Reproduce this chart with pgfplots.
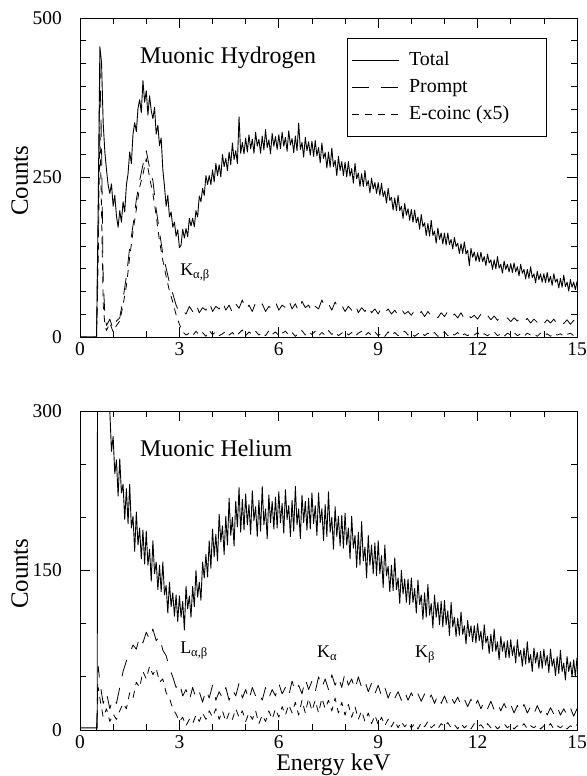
\documentclass[border=0pt]{standalone}
\usepackage{pgfplots}
\pgfplotsset{compat=1.18}
\usepackage{fontspec}
\setmainfont{Liberation Serif}
\pgfplotsset{
  base/.style={
    scale only axis, width=497bp, height=319bp, anchor=south west,
    xmin=0, xmax=15, xtick={0,3,...,15}, minor x tick num=2,
    tick align=inside, major tick length=10bp, minor tick length=6bp,
    axis line style={line width=0.8bp}, every tick/.style={black,line width=0.7bp},
    /pgf/number format/assume math mode=true,
    tick label style={font=\fontsize{19.5}{19.5}\selectfont},
    xticklabel style={anchor=north, inner sep=0pt, yshift=-5bp},
    yticklabel style={anchor=east, inner sep=0pt, xshift=-18bp},
    every axis y label/.style={at={(axis description cs:-0.121,0.49)}, rotate=90, anchor=center, font=\fontsize{25}{25}\selectfont},
    every axis plot/.append style={line join=round},
  },
  tot/.style={black, line width=0.9bp},
  pro/.style={black, line width=0.8bp, dash pattern=on 17bp off 12bp},
  eco/.style={black, line width=0.8bp, dash pattern=on 7bp off 6bp},
}
\begin{document}
\begin{tikzpicture}
\useasboundingbox (0,0) rectangle (587bp,776bp);
% ---------------- Top panel: Muonic Hydrogen ----------------
\begin{axis}[base, at={(80bp,439bp)}, ymin=0, ymax=500, ytick={0,250,500}, minor y tick num=6,
  ylabel={Counts},
  legend style={at={(0.537,0.936)}, anchor=north west, draw=black, line width=0.6bp,
    font=\fontsize{20}{20}\selectfont, inner xsep=4bp, inner ysep=10bp, row sep=3bp,
    nodes={inner sep=3bp, text height=14bp, text depth=4bp},
    /tikz/every odd column/.append style={column sep=7bp}},
  legend cell align=left,
  legend image code/.code={\draw[#1] (0bp,0bp) -- (47bp,0bp);},
]
\addplot[tot] coordinates {(0,0) (0.5,0) (0.55,210) (0.6,455) (0.65,430) (0.7,335) (0.75,290) (0.8,262) (0.85,238) (0.9,225) (0.95,240) (1.0,205) (1.05,222) (1.1,190) (1.15,172) (1.2,198) (1.25,180) (1.3,212) (1.35,196) (1.4,238) (1.45,256) (1.5,290) (1.55,272) (1.6,318) (1.65,336) (1.7,322) (1.75,358) (1.8,372) (1.85,352) (1.9,402) (1.95,368) (2.0,386) (2.05,348) (2.1,378) (2.15,355) (2.2,342) (2.25,360) (2.3,318) (2.35,332) (2.4,300) (2.45,312) (2.5,262) (2.55,236) (2.6,205) (2.65,222) (2.7,188) (2.75,196) (2.8,172) (2.85,180) (2.9,158) (2.95,168)
(3.00,140) (3.05,144) (3.10,169) (3.15,155) (3.20,170) (3.25,157) (3.30,186) (3.35,174) (3.40,186) (3.45,173) (3.50,198) (3.55,188) (3.60,221) (3.65,212) (3.70,233) (3.75,222) (3.80,253) (3.85,239) (3.90,253) (3.95,239)
(4.00,262) (4.05,243) (4.10,272) (4.15,253) (4.20,270) (4.25,251) (4.30,286) (4.35,267) (4.40,280) (4.45,261) (4.50,290) (4.55,270) (4.60,304) (4.65,278) (4.70,292) (4.75,272) (4.80,345) (4.85,288) (4.90,305) (4.95,287)
(5.00,312) (5.05,290) (5.10,317) (5.15,295) (5.20,310) (5.25,288) (5.30,321) (5.35,299) (5.40,310) (5.45,288) (5.50,315) (5.55,293) (5.60,325) (5.65,297) (5.70,309) (5.75,287) (5.80,319) (5.85,299) (5.90,314) (5.95,294)
(6.00,317) (6.05,295) (6.10,321) (6.15,299) (6.20,313) (6.25,291) (6.30,323) (6.35,301) (6.40,311) (6.45,289) (6.50,315) (6.55,292) (6.60,335) (6.65,294) (6.70,305) (6.75,282) (6.80,313) (6.85,292) (6.90,306) (6.95,285)
(7.00,307) (7.05,283) (7.10,308) (7.15,284) (7.20,297) (7.25,273) (7.30,304) (7.35,280) (7.40,289) (7.45,265) (7.50,290) (7.55,266) (7.60,296) (7.65,267) (7.70,277) (7.75,253) (7.80,283) (7.85,261) (7.90,275) (7.95,253)
(8.00,274) (8.05,251) (8.10,275) (8.15,252) (8.20,264) (8.25,241) (8.30,272) (8.35,248) (8.40,257) (8.45,236) (8.50,256) (8.55,236) (8.60,261) (8.65,237) (8.70,245) (8.75,226) (8.80,249) (8.85,232) (8.90,242) (8.95,225)
(9.00,242) (9.05,222) (9.10,241) (9.15,220) (9.20,229) (9.25,210) (9.30,233) (9.35,214) (9.40,219) (9.45,199) (9.50,218) (9.55,198) (9.60,222) (9.65,198) (9.70,205) (9.75,186) (9.80,209) (9.85,191) (9.90,201) (9.95,183)
(10.00,200) (10.05,180) (10.10,199) (10.15,179) (10.20,188) (10.25,169) (10.30,192) (10.35,173) (10.40,179) (10.45,159) (10.50,178) (10.55,158) (10.60,183) (10.65,159) (10.70,166) (10.75,147) (10.80,171) (10.85,153) (10.90,163) (10.95,146)
(11.00,163) (11.05,144) (11.10,163) (11.15,145) (11.20,153) (11.25,138) (11.30,156) (11.35,142) (11.40,147) (11.45,131) (11.50,146) (11.55,131) (11.60,149) (11.65,130) (11.70,136) (11.75,112) (11.80,139) (11.85,125) (11.90,133) (11.95,119)
(12.00,132) (12.05,118) (12.10,133) (12.15,118) (12.20,126) (12.25,112) (12.30,130) (12.35,116) (12.40,121) (12.45,106) (12.50,121) (12.55,107) (12.60,126) (12.65,108) (12.70,114) (12.75,100) (12.80,119) (12.85,106) (12.90,114) (12.95,102)
(13.00,115) (13.05,101) (13.10,116) (13.15,102) (13.20,110) (13.25,96) (13.30,114) (13.35,100) (13.40,106) (13.45,91) (13.50,106) (13.55,92) (13.60,110) (13.65,93) (13.70,99) (13.75,85) (13.80,103) (13.85,90) (13.90,99) (13.95,86)
(14.00,99) (14.05,85) (14.10,101) (14.15,86) (14.20,95) (14.25,81) (14.30,99) (14.35,86) (14.40,91) (14.45,77) (14.50,92) (14.55,78) (14.60,97) (14.65,79) (14.70,86) (14.75,72) (14.80,90) (14.85,78) (14.90,86) (14.95,74) (15.00,87)};
\addlegendentry{\makebox[130bp][l]{Total}}
\addplot[pro] coordinates {(0,0) (0.5,0) (0.55,180) (0.6,430) (0.65,300) (0.7,90) (0.75,35) (0.8,18) (0.9,28) (1.0,12) (1.1,25) (1.2,30) (1.3,60) (1.4,95) (1.5,140) (1.6,175) (1.7,215) (1.8,245) (1.9,270) (2.0,292) (2.1,265) (2.2,245) (2.3,200) (2.4,165) (2.5,130) (2.6,108) (2.7,85) (2.8,68) (2.9,50) (3.0,38) (3.1,42) (3.2,36)
(3.3,48) (3.4,40) (3.5,52) (3.6,38) (3.7,46) (3.8,42) (3.9,55) (4.0,40) (4.1,48) (4.2,44) (4.3,56) (4.4,42) (4.5,50) (4.6,38) (4.7,52) (4.8,45) (4.9,58) (5.0,42) (5.1,50) (5.2,40) (5.3,54) (5.4,46) (5.5,52) (5.6,40) (5.7,48) (5.8,44) (5.9,55) (6.0,42) (6.1,50) (6.2,46) (6.3,58) (6.4,44) (6.5,52) (6.6,40) (6.7,56) (6.8,46) (6.9,50) (7.0,38) (7.1,48) (7.2,44) (7.3,58) (7.4,46) (7.5,52) (7.6,42) (7.7,55) (7.8,44) (7.9,50) (8.0,40) (8.1,48) (8.2,42) (8.3,52) (8.4,38) (8.5,46) (8.6,40) (8.7,50) (8.8,38) (8.9,44) (9.0,36) (9.1,46) (9.2,38) (9.3,44) (9.4,36) (9.5,42) (9.6,34) (9.7,44) (9.8,36) (9.9,40) (10.0,34) (10.1,42) (10.2,34) (10.3,40) (10.4,32) (10.5,40) (10.6,33) (10.7,38) (10.8,30) (10.9,38) (11.0,32) (11.1,40) (11.2,30) (11.3,36) (11.4,30) (11.5,38) (11.6,28) (11.7,36) (11.8,30) (11.9,34) (12.0,28) (12.1,36) (12.2,28) (12.3,34) (12.4,27) (12.5,33) (12.6,26) (12.7,32) (12.8,26) (12.9,30) (13.0,24) (13.1,30) (13.2,25) (13.3,31) (13.4,24) (13.5,29) (13.6,22) (13.7,28) (13.8,23) (13.9,29) (14.0,21) (14.1,27) (14.2,22) (14.3,28) (14.4,20) (14.5,26) (14.6,21) (14.7,27) (14.8,20) (14.9,26) (15.0,22)};
\addlegendentry{\makebox[130bp][l]{Prompt}}
\addplot[eco] coordinates {(0,0) (0.5,0) (0.55,120) (0.6,330) (0.65,200) (0.7,50) (0.75,20) (0.8,10) (0.9,22) (1.0,8) (1.1,18) (1.2,25) (1.3,50) (1.4,80) (1.5,125) (1.6,165) (1.7,200) (1.8,235) (1.9,255) (2.0,280) (2.1,250) (2.2,225) (2.3,190) (2.4,150) (2.5,120) (2.6,95) (2.7,72) (2.8,55) (2.9,35) (3.0,20) (3.1,8) (3.2,3)
(3.3,6) (3.4,2) (3.5,9) (3.6,3) (3.7,7) (3.8,1) (3.9,10) (4.0,4) (4.1,8) (4.2,2) (4.3,5) (4.4,9) (4.5,3) (4.6,7) (4.7,1) (4.8,6) (4.9,11) (5.0,2) (5.1,8) (5.2,4) (5.3,9) (5.4,3) (5.5,7) (5.6,2) (5.7,10) (5.8,4) (5.9,8) (6.0,2) (6.1,6) (6.2,9) (6.3,3) (6.4,7) (6.5,1) (6.6,6) (6.7,10) (6.8,3) (6.9,8) (7.0,4) (7.1,9) (7.2,2) (7.3,7) (7.4,3) (7.5,10) (7.6,4) (7.7,8) (7.8,2) (7.9,6) (8.0,9) (8.1,3) (8.2,7) (8.3,1) (8.4,6) (8.5,9) (8.6,2) (8.7,7) (8.8,3) (8.9,8) (9.0,2) (9.1,6) (9.2,1) (9.3,8) (9.4,3) (9.5,7) (9.6,2) (9.7,6) (9.8,9) (9.9,3) (10.0,6) (10.1,1) (10.2,5) (10.3,8) (10.4,2) (10.5,6) (10.6,3) (10.7,7) (10.8,1) (10.9,5) (11.0,8) (11.1,2) (11.2,6) (11.3,3) (11.4,7) (11.5,1) (11.6,5) (11.7,2) (11.8,6) (11.9,3) (12.0,7) (12.1,1) (12.2,5) (12.3,2) (12.4,6) (12.5,8) (12.6,2) (12.7,5) (12.8,1) (12.9,6) (13.0,3) (13.1,7) (13.2,2) (13.3,5) (13.4,1) (13.5,6) (13.6,3) (13.7,5) (13.8,1) (13.9,6) (14.0,2) (14.1,5) (14.2,1) (14.3,6) (14.4,3) (14.5,5) (14.6,1) (14.7,4) (14.8,6) (14.9,2) (15.0,5)};
\addlegendentry{\makebox[130bp][l]{E-coinc (x5)}}
\node[anchor=base west, font=\fontsize{24}{24}\selectfont, inner sep=0pt] at (axis cs:1.81,428) {Muonic Hydrogen};
\node[anchor=base west, font=\fontsize{18}{18}\selectfont, inner sep=0pt] at (axis cs:3.02,97) {K\textsubscript{α,β}};
\end{axis}
% ---------------- Bottom panel: Muonic Helium ----------------
\begin{axis}[base, at={(80bp,46bp)}, ymin=0, ymax=300, ytick={0,150,300}, minor y tick num=2,
  ylabel={Counts}, xlabel={Energy keV},
  every axis x label/.style={at={(axis description cs:0.51,0)}, anchor=base, yshift=-40bp, font=\fontsize{24}{24}\selectfont},
]
\addplot[tot] coordinates {(0,2) (0.52,2) (0.53,420) (0.85,330) (0.90,300) (0.95,262) (1.00,276) (1.05,241) (1.10,254) (1.15,220) (1.20,255) (1.25,223) (1.30,231) (1.35,198) (1.40,227) (1.45,194) (1.50,231) (1.55,190) (1.60,201) (1.65,168) (1.70,205) (1.75,174) (1.80,190) (1.85,161)
(1.90,188) (1.95,156) (2.00,187) (2.05,155) (2.10,170) (2.15,140) (2.20,178) (2.25,147) (2.30,158) (2.35,132) (2.40,155) (2.45,130) (2.50,158) (2.55,127) (2.60,136) (2.65,110) (2.70,139) (2.75,116) (2.80,129) (2.85,107)
(2.90,127) (2.95,102) (3.00,126) (3.05,106) (3.10,121) (3.15,94) (3.20,135) (3.25,114) (3.30,126) (3.35,106) (3.40,135) (3.45,116) (3.50,150) (3.55,125) (3.60,139) (3.65,122) (3.70,158) (3.75,143) (3.80,165) (3.85,144)
(3.90,178) (3.95,152) (4.00,189) (4.05,163) (4.10,184) (4.15,159) (4.20,203) (4.25,177) (4.30,192) (4.35,165) (4.40,201) (4.45,174) (4.50,218) (4.55,183) (4.60,200) (4.65,173) (4.70,215) (4.75,191) (4.80,228) (4.85,186)
(4.90,217) (4.95,188) (5.00,222) (5.05,193) (5.10,212) (5.15,184) (5.20,225) (5.25,197) (5.30,210) (5.35,182) (5.40,216) (5.45,187) (5.50,229) (5.55,193) (5.60,208) (5.65,180) (5.70,221) (5.75,195) (5.80,215) (5.85,189)
(5.90,219) (5.95,190) (6.00,224) (6.05,195) (6.10,213) (6.15,185) (6.20,226) (6.25,198) (6.30,211) (6.35,182) (6.40,216) (6.45,187) (6.50,229) (6.55,193) (6.60,208) (6.65,180) (6.70,221) (6.75,195) (6.80,215) (6.85,188)
(6.90,218) (6.95,189) (7.00,223) (7.05,194) (7.10,211) (7.15,183) (7.20,223) (7.25,195) (7.30,208) (7.35,178) (7.40,212) (7.45,182) (7.50,224) (7.55,186) (7.60,200) (7.65,170) (7.70,210) (7.75,182) (7.80,201) (7.85,173)
(7.90,202) (7.95,171) (8.00,204) (8.05,174) (8.10,190) (8.15,161) (8.20,201) (8.25,171) (8.30,183) (8.35,153) (8.40,186) (8.45,155) (8.50,196) (8.55,159) (8.60,172) (8.65,143) (8.70,183) (8.75,155) (8.80,174) (8.85,147)
(8.90,176) (8.95,145) (9.00,178) (9.05,147) (9.10,164) (9.15,134) (9.20,174) (9.25,145) (9.30,154) (9.35,130) (9.40,155) (9.45,131) (9.50,162) (9.55,132) (9.60,143) (9.65,119) (9.70,150) (9.75,128) (9.80,142) (9.85,120)
(9.90,142) (9.95,118) (10.00,143) (10.05,120) (10.10,133) (10.15,110) (10.20,141) (10.25,118) (10.30,127) (10.35,104) (10.40,129) (10.45,106) (10.50,137) (10.55,108) (10.60,119) (10.65,96) (10.70,127) (10.75,106) (10.80,120) (10.85,99)
(10.90,121) (10.95,97) (11.00,122) (11.05,99) (11.10,112) (11.15,89) (11.20,120) (11.25,97) (11.30,106) (11.35,88) (11.40,105) (11.45,89) (11.50,111) (11.55,90) (11.60,98) (11.65,81) (11.70,103) (11.75,88) (11.80,98) (11.85,83)
(11.90,98) (11.95,82) (12.00,100) (12.05,84) (12.10,93) (12.15,76) (12.20,99) (12.25,82) (12.30,88) (12.35,72) (12.40,90) (12.45,74) (12.50,95) (12.55,74) (12.60,83) (12.65,66) (12.70,88) (12.75,74) (12.80,83) (12.85,68)
(12.90,84) (12.95,68) (13.00,85) (13.05,70) (13.10,79) (13.15,63) (13.20,85) (13.25,69) (13.30,75) (13.35,60) (13.40,77) (13.45,62) (13.50,83) (13.55,63) (13.60,71) (13.65,55) (13.70,77) (13.75,63) (13.80,73) (13.85,58)
(13.90,74) (13.95,58) (14.00,76) (14.05,61) (14.10,70) (14.15,54) (14.20,76) (14.25,60) (14.30,67) (14.35,51) (14.40,69) (14.45,53) (14.50,75) (14.55,55) (14.60,63) (14.65,47) (14.70,69) (14.75,55) (14.80,64) (14.85,50)
(14.90,66) (14.95,50) (15.00,68)};
\addplot[pro] coordinates {(0.5,0) (0.55,60) (0.6,45) (0.7,25) (0.8,35) (0.9,20) (1.0,30) (1.1,25) (1.2,40) (1.3,55) (1.4,65) (1.5,72) (1.6,80) (1.7,76) (1.8,88) (1.9,82) (2.0,92) (2.1,85) (2.2,95) (2.3,84) (2.4,88) (2.5,75) (2.6,70) (2.7,58) (2.8,50) (2.9,40) (3.0,45) (3.1,32) (3.2,38) (3.3,28) (3.4,40) (3.5,30) (3.6,36) (3.7,26) (3.8,38) (3.9,30) (4.0,42) (4.1,28) (4.2,36) (4.3,30) (4.4,40) (4.5,28) (4.6,38) (4.7,32) (4.8,44) (4.9,30) (5.0,38) (5.1,28) (5.2,40) (5.3,32) (5.4,36) (5.5,28) (5.6,40) (5.7,30) (5.8,38) (5.9,32) (6.0,44) (6.1,34) (6.2,40) (6.3,32) (6.4,46) (6.5,36) (6.6,42) (6.7,34) (6.8,48) (6.9,38) (7.0,46) (7.1,36) (7.2,50) (7.3,40) (7.4,48) (7.5,38) (7.6,52) (7.7,42) (7.8,50) (7.9,40) (8.0,54) (8.1,42) (8.2,48) (8.3,38) (8.4,50) (8.5,40) (8.6,46) (8.7,36) (8.8,44) (8.9,34) (9.0,42) (9.1,32) (9.2,40) (9.3,30) (9.4,38) (9.5,30) (9.6,36) (9.7,28) (9.8,36) (9.9,28) (10.0,35) (10.1,28) (10.2,34) (10.3,27) (10.4,34) (10.5,27) (10.6,33) (10.7,25) (10.8,33) (10.9,25) (11.0,32) (11.1,24) (11.2,31) (11.3,25) (11.4,31) (11.5,23) (11.6,29) (11.7,22) (11.8,29) (11.9,21) (12.0,28) (12.1,20) (12.2,27) (12.3,20) (12.4,27) (12.5,19) (12.6,25) (12.7,18) (12.8,25) (12.9,18) (13.0,24) (13.1,16) (13.2,23) (13.3,17) (13.4,24) (13.5,16) (13.6,22) (13.7,15) (13.8,23) (13.9,16) (14.0,22) (14.1,14) (14.2,21) (14.3,15) (14.4,22) (14.5,14) (14.6,20) (14.7,14) (14.8,21) (14.9,13) (15.0,20)};
\addplot[eco] coordinates {(0.5,0) (0.55,40) (0.6,30) (0.7,12) (0.8,20) (0.9,8) (1.0,15) (1.1,10) (1.2,18) (1.3,25) (1.4,20) (1.5,35) (1.6,30) (1.7,45) (1.8,40) (1.9,55) (2.0,48) (2.1,60) (2.2,52) (2.3,58) (2.4,45) (2.5,48) (2.6,35) (2.7,30) (2.8,20) (2.9,15) (3.0,8) (3.1,12) (3.2,4) (3.3,10) (3.4,6) (3.5,14) (3.6,8) (3.7,16) (3.8,10) (3.9,18) (4.0,12) (4.1,20) (4.2,10) (4.3,18) (4.4,8) (4.5,16) (4.6,10) (4.7,20) (4.8,12) (4.9,18) (5.0,8) (5.1,16) (5.2,10) (5.3,18) (5.4,6) (5.5,14) (5.6,8) (5.7,18) (5.8,10) (5.9,20) (6.0,12) (6.1,22) (6.2,14) (6.3,24) (6.4,16) (6.5,26) (6.6,14) (6.7,28) (6.8,16) (6.9,30) (7.0,18) (7.1,28) (7.2,16) (7.3,30) (7.4,20) (7.5,28) (7.6,18) (7.7,30) (7.8,16) (7.9,26) (8.0,14) (8.1,24) (8.2,12) (8.3,22) (8.4,10) (8.5,18) (8.6,8) (8.7,16) (8.8,6) (8.9,14) (9.0,5) (9.1,12) (9.2,4) (9.3,10) (9.4,3) (9.5,9) (9.6,2) (9.7,8) (9.8,3) (9.9,7) (10.0,2) (10.1,6) (10.2,1) (10.3,7) (10.4,3) (10.5,8) (10.6,2) (10.7,5) (10.8,1) (10.9,6) (11.0,3) (11.1,7) (11.2,2) (11.3,5) (11.4,1) (11.5,6) (11.6,2) (11.7,5) (11.8,1) (11.9,6) (12.0,3) (12.1,5) (12.2,1) (12.3,6) (12.4,2) (12.5,5) (12.6,1) (12.7,4) (12.8,6) (12.9,2) (13.0,5) (13.1,1) (13.2,4) (13.3,2) (13.4,6) (13.5,1) (13.6,4) (13.7,2) (13.8,5) (13.9,1) (14.0,4) (14.1,2) (14.2,6) (14.3,1) (14.4,4) (14.5,2) (14.6,5) (14.7,1) (14.8,4) (14.9,2) (15.0,5)};
\node[anchor=base west, font=\fontsize{24}{24}\selectfont, inner sep=0pt] at (axis cs:1.81,257) {Muonic Helium};
\node[anchor=base west, font=\fontsize{18}{18}\selectfont, inner sep=0pt] at (axis cs:3.02,72) {L\textsubscript{α,β}};
\node[anchor=base west, font=\fontsize{18}{18}\selectfont, inner sep=0pt] at (axis cs:7.15,68) {K\textsubscript{α}};
\node[anchor=base west, font=\fontsize{18}{18}\selectfont, inner sep=0pt] at (axis cs:10.11,68) {K\textsubscript{β}};
\end{axis}
\end{tikzpicture}
\end{document}
